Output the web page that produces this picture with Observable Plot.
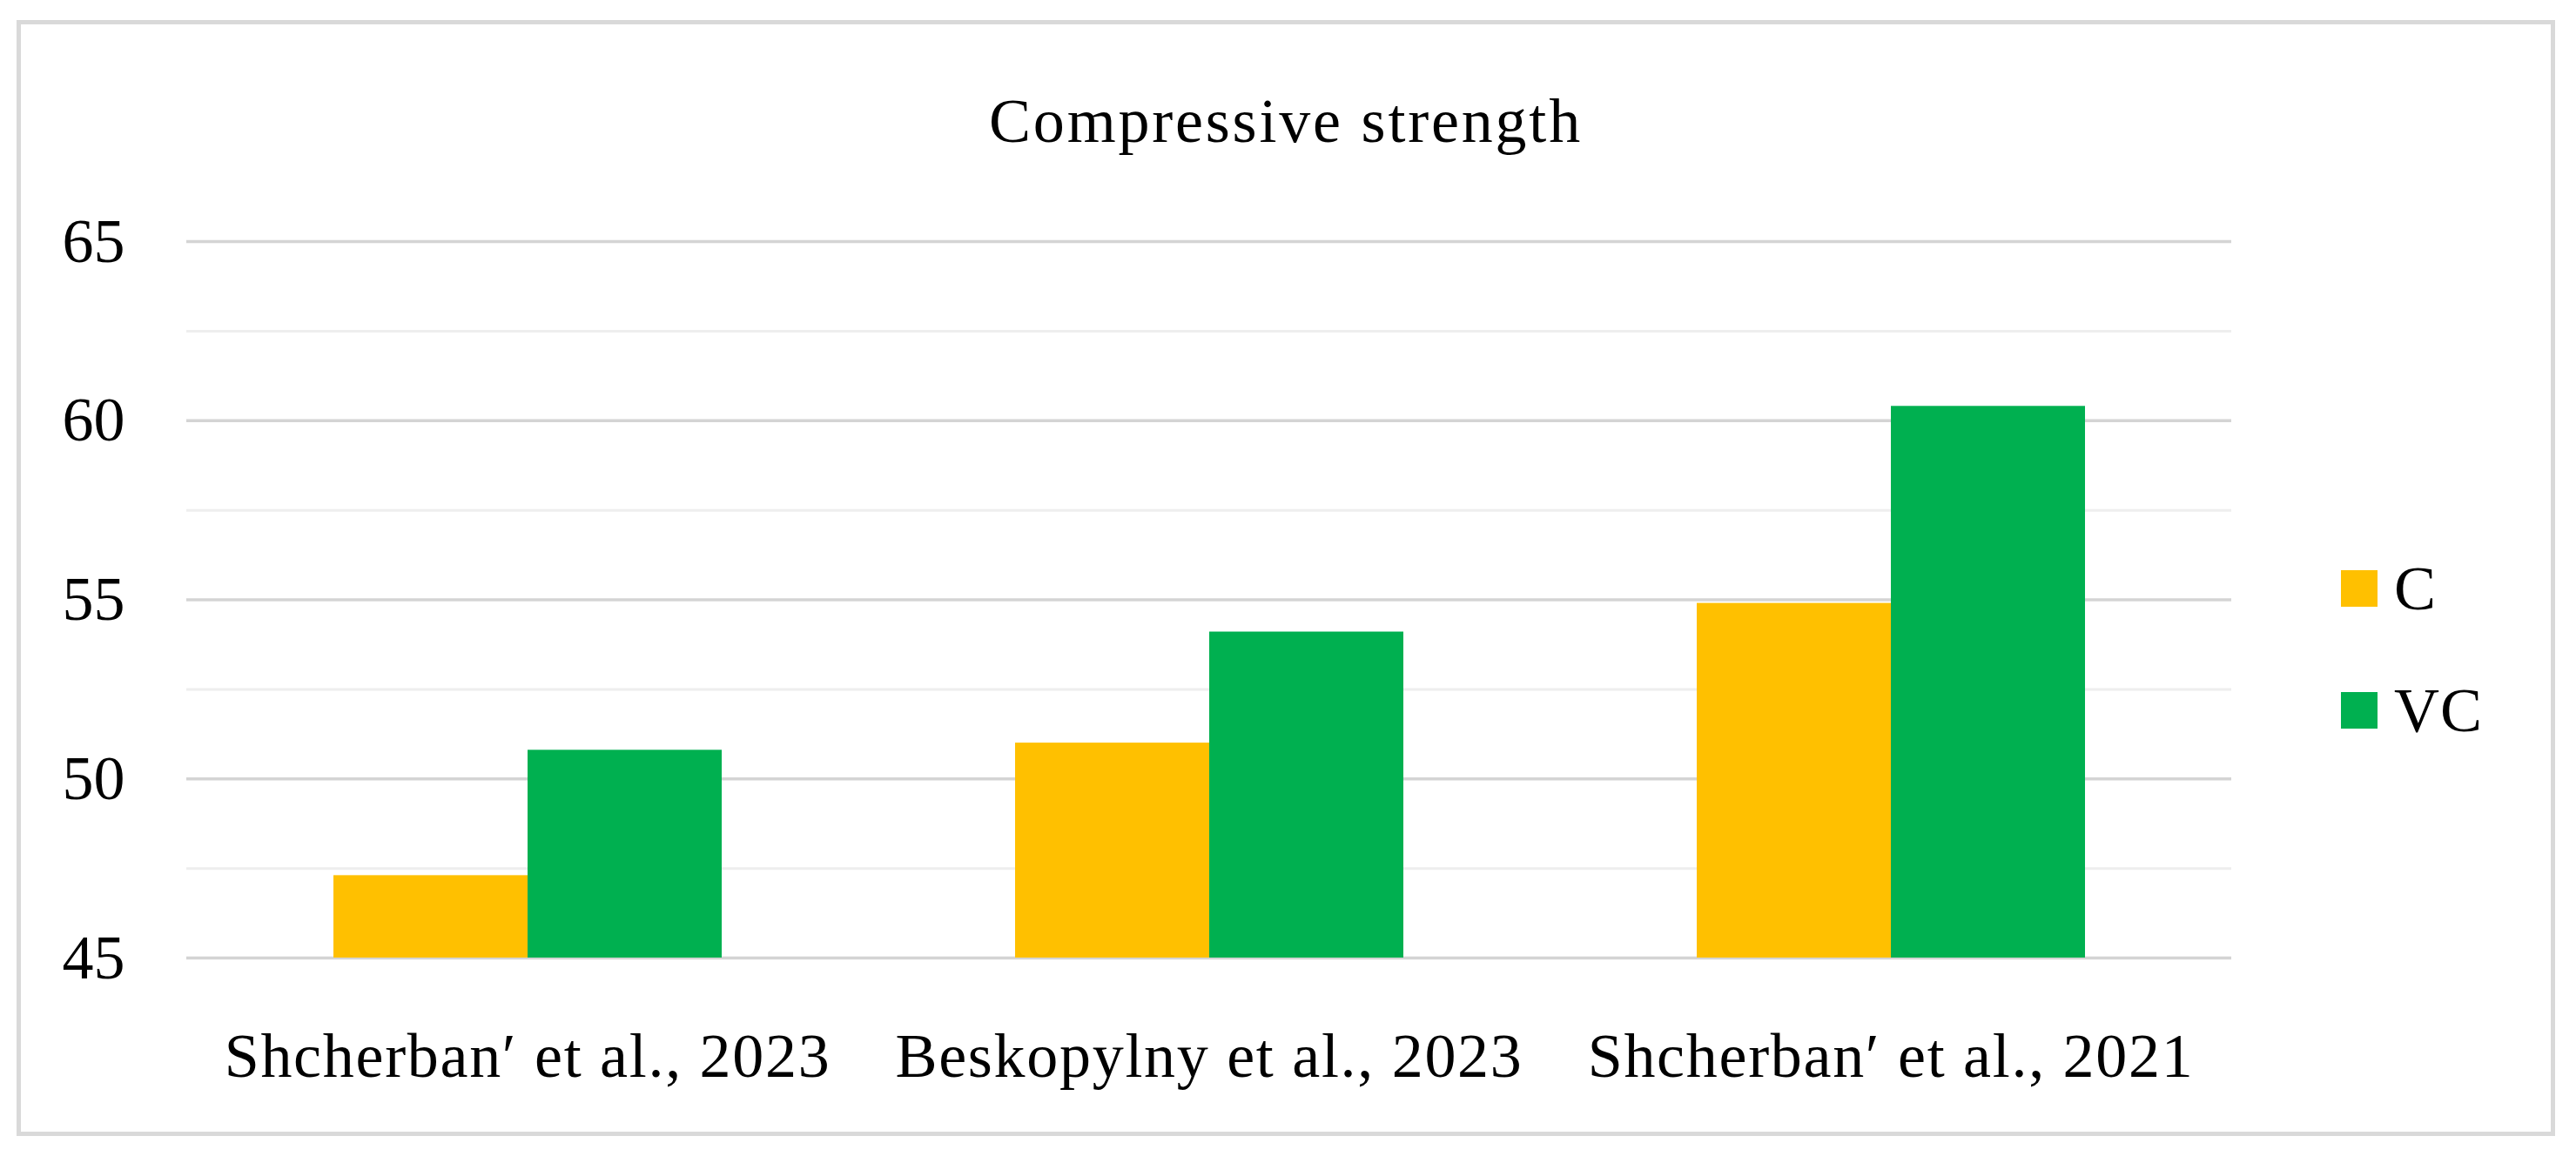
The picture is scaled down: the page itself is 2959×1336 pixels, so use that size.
<!DOCTYPE html>
<html>
<head>
<meta charset="utf-8">
<script src="https://cdn.jsdelivr.net/npm/d3@7"></script>
<script src="https://cdn.jsdelivr.net/npm/@observablehq/plot@0.6"></script>
<style>
  html, body { margin: 0; padding: 0; background: #ffffff; width: 2959px; height: 1336px; overflow: hidden; }
  #frame { position: absolute; left: 19px; top: 23px; width: 2916px; height: 1282px; box-sizing: border-box; border: 5px solid #d9d9d9; background: #ffffff; }
  #title { position: absolute; left: 19px; width: 2916px; top: 103px; text-align: center; font-family: "Liberation Serif", serif; font-size: 72px; line-height: 72px; letter-spacing: 2.8px; color: #000; }
  #chart { position: absolute; left: 0; top: 200px; }
  #chart [aria-label^="fx-axis"] text { letter-spacing: 1.7px; }
  .legend-item { position: absolute; left: 2689px; height: 72px; font-family: "Liberation Serif", serif; font-size: 72px; line-height: 72px; color: #000; }
  .legend-item .sw { position: absolute; left: 0; top: 15px; width: 42px; height: 42px; }
  .legend-item .lb { position: absolute; left: 61px; top: 0; white-space: nowrap; letter-spacing: 1px; }
</style>
</head>
<body>
<div id="frame"></div>
<div id="title"></div>
<div id="chart"></div>
<div id="legend"></div>
<script>
// ---- data ----
const chartTitle = "Compressive strength";
const categories = ["Shcherban′ et al., 2023", "Beskopylny et al., 2023", "Shcherban′ et al., 2021"];
const seriesNames = ["C", "VC"];
const valuesC = [47.3, 51.0, 54.9];
const valuesVC = [50.8, 54.1, 60.4];
const seriesColors = ["#FFC000", "#00B050"];
const yDomain = [45, 65];
const majorTicks = [45, 50, 55, 60, 65];
const minorTicks = [47.5, 52.5, 57.5, 62.5];

// ---- table for Plot ----
const seriesValues = [valuesC, valuesVC];
const rows = categories.flatMap((c, i) =>
  seriesNames.map((s, j) => ({ category: c, series: s, value: seriesValues[j][i] }))
);

document.getElementById("title").textContent = chartTitle;

const chart = Plot.plot({
  width: 2959,
  height: 1090,
  marginLeft: 213,
  marginRight: 396,
  marginTop: 77,
  marginBottom: 190,
  style: { fontFamily: "Liberation Serif, serif", fontSize: "72px", color: "#000", background: "transparent", overflow: "visible" },
  fx: { domain: categories, padding: 0, axis: "bottom", label: null, tickSize: 0, tickPadding: 85 },
  x: { domain: seriesNames, paddingInner: 0, paddingOuter: 0.753, axis: null },
  y: { domain: yDomain, ticks: majorTicks, tickSize: 0, tickPadding: 71, label: null },
  color: { domain: seriesNames, range: seriesColors },
  marks: [
    Plot.ruleY(minorTicks, { stroke: "#eeeeee", strokeWidth: 3 }),
    Plot.ruleY(majorTicks, { stroke: "#d4d4d4", strokeWidth: 3.5 }),
    Plot.barY(rows, { fx: "category", x: "series", y1: () => yDomain[0], y2: "value", fill: "series" })
  ]
});
document.getElementById("chart").appendChild(chart);

// ---- legend ----
const legend = document.getElementById("legend");
seriesNames.forEach((s, i) => {
  const item = document.createElement("div");
  item.className = "legend-item";
  item.style.top = (640 + i * 140) + "px";
  const sw = document.createElement("div");
  sw.className = "sw";
  sw.style.background = seriesColors[i];
  const lb = document.createElement("div");
  lb.className = "lb";
  lb.textContent = s;
  item.appendChild(sw);
  item.appendChild(lb);
  legend.appendChild(item);
});
</script>
</body>
</html>
